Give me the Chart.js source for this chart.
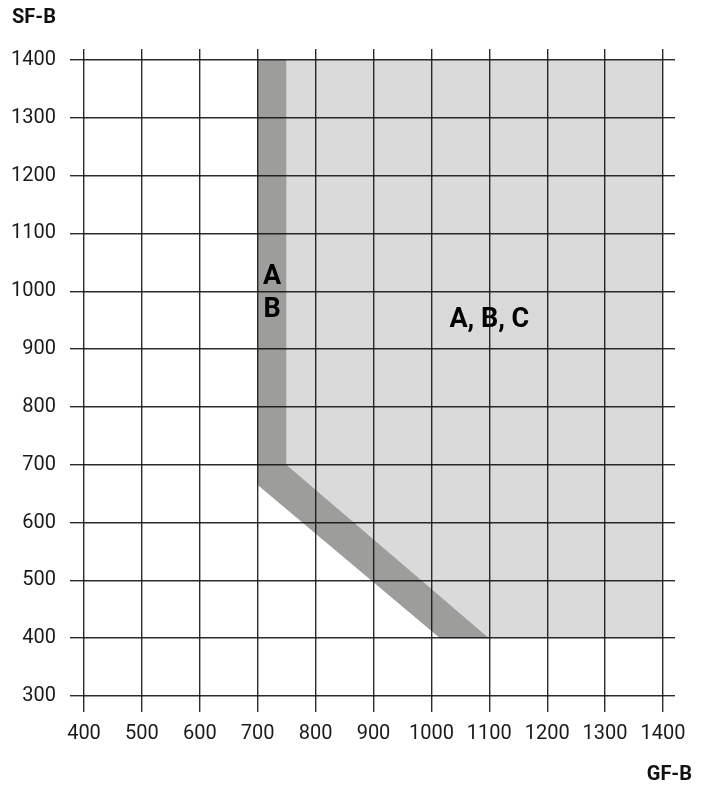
<!DOCTYPE html>
<html>
<head>
<meta charset="utf-8">
<script src="https://cdn.jsdelivr.net/npm/chart.js@4"></script>
<style>
  html, body { margin: 0; padding: 0; background: #fff; }
  #wrap { width: 706px; height: 787px; }
</style>
</head>
<body>
<div id="wrap"><canvas id="chart" width="706" height="787"></canvas></div>
<script>
// operating field outlines (GF-B on x, SF-B on y)
const darkGF = [700, 750, 750, 1100, 1015, 700, 700];
const darkSF = [1400, 1400, 700, 400, 400, 665, 1400];
const lightGF = [750, 1400, 1400, 1100, 750, 750];
const lightSF = [1400, 1400, 400, 400, 700, 1400];

// zone labels
const zoneText = ['A', 'B', 'A, B, C'];
const zoneGF = [725, 725, 1100];
const zoneSF = [1025, 968, 950];

const xMin = 400, xMax = 1400;
const yMin = 300, yMax = 1400;
const step = 100;

const toPoints = (xs, ys) => xs.map((x, i) => ({ x: x, y: ys[i] }));

const gridCol = 'rgba(20,20,20,0.9)';
const tickFont = { family: 'Roboto', size: 20 };

const labelPlugin = {
    id: 'zoneLabels',
    afterDatasetsDraw(chart) {
        const ctx = chart.ctx;
        const xs = chart.scales.x, ys = chart.scales.y;
        ctx.save();
        ctx.fillStyle = '#000';
        ctx.font = 'bold 27px Roboto';
        ctx.textAlign = 'center';
        ctx.textBaseline = 'middle';
        zoneText.forEach((t, i) => {
            ctx.fillText(t, xs.getPixelForValue(zoneGF[i]), ys.getPixelForValue(zoneSF[i]));
        });
        // axis names
        ctx.fillStyle = '#111';
        ctx.font = 'bold 20px Roboto';
        ctx.textAlign = 'left';
        ctx.fillText('SF-B', 12, 18);
        ctx.textAlign = 'right';
        ctx.fillText('GF-B', 692, 775);
        ctx.restore();
    }
};

function axisGrid(len, onArea) {
    return {
        z: 1,
        color: gridCol,
        lineWidth: 1.4,
        drawOnChartArea: onArea,
        drawTicks: true,
        tickLength: len,
        tickColor: gridCol,
        tickWidth: 1.4
    };
}

const plain = v => String(v);

new Chart(document.getElementById('chart').getContext('2d'), {
    type: 'scatter',
    data: {
        datasets: [{
            data: toPoints(lightGF, lightSF),
            showLine: true,
            fill: 'shape',
            backgroundColor: '#dadada',
            borderColor: '#dadada',
            borderWidth: 0,
            pointRadius: 0,
            tension: 0
        }, {
            data: toPoints(darkGF, darkSF),
            showLine: true,
            fill: 'shape',
            backgroundColor: '#9d9d9b',
            borderColor: '#9d9d9b',
            borderWidth: 0,
            pointRadius: 0,
            tension: 0
        }]
    },
    options: {
        responsive: false,
        animation: false,
        layout: { padding: 0 },
        plugins: { legend: { display: false }, tooltip: { enabled: false } },
        scales: {
            x: {
                type: 'linear', position: 'bottom', min: xMin, max: xMax,
                border: { display: false },
                grid: axisGrid(16, true),
                ticks: { stepSize: step, color: '#1a1a1a', font: tickFont, padding: 10, maxRotation: 0, callback: plain },
                afterFit: s => { s.height = 91; }
            },
            x2: {
                type: 'linear', position: 'top', min: xMin, max: xMax,
                border: { display: false },
                grid: axisGrid(11, false),
                ticks: { stepSize: step, display: false },
                afterFit: s => { s.height = 60; }
            },
            y: {
                type: 'linear', position: 'left', min: yMin, max: yMax,
                border: { display: false },
                grid: axisGrid(14, true),
                ticks: { stepSize: step, color: '#1a1a1a', font: tickFont, padding: 14, callback: plain },
                afterFit: s => { s.width = 84; }
            },
            y2: {
                type: 'linear', position: 'right', min: yMin, max: yMax,
                border: { display: false },
                grid: axisGrid(12, false),
                ticks: { stepSize: step, display: false },
                afterFit: s => { s.width = 43; }
            }
        }
    },
    plugins: [labelPlugin]
});
</script>
</body>
</html>
